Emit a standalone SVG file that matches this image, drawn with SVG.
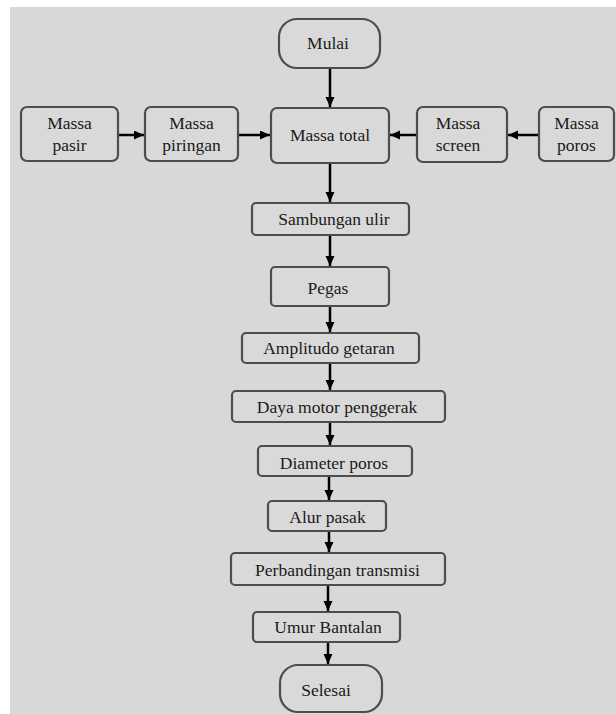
<svg xmlns="http://www.w3.org/2000/svg" width="616" height="714" viewBox="0 0 616 714">
<defs>
<style>
.bg{fill:#d8d8d8}
.box{fill:#d9d9d9;stroke:#4d4d4d;stroke-width:2.2}
text{font-family:"Liberation Serif","Times New Roman",Times,serif;font-size:17.5px;fill:#1a1a1a;text-anchor:middle}
.c{stroke:#000;stroke-width:2.5;fill:none}
</style>
<marker id="ah" markerUnits="userSpaceOnUse" markerWidth="11" markerHeight="10" refX="10" refY="4.5" orient="auto">
<path d="M0,0 L10,4.5 L0,9 z" fill="#000"/>
</marker>
</defs>
<rect class="bg" x="10" y="7" width="606" height="707"/>

<g id="connectors">
<line class="c" x1="330" y1="68" x2="330" y2="107" marker-end="url(#ah)"/>
<line class="c" x1="118" y1="135" x2="144" y2="135" marker-end="url(#ah)"/>
<line class="c" x1="238" y1="135" x2="270" y2="135" marker-end="url(#ah)"/>
<line class="c" x1="417" y1="135" x2="390" y2="135" marker-end="url(#ah)"/>
<line class="c" x1="539" y1="135" x2="508" y2="135" marker-end="url(#ah)"/>
<line class="c" x1="330" y1="163" x2="330" y2="202" marker-end="url(#ah)"/>
<line class="c" x1="330" y1="235" x2="330" y2="266" marker-end="url(#ah)"/>
<line class="c" x1="330" y1="306" x2="330" y2="332" marker-end="url(#ah)"/>
<line class="c" x1="330" y1="363" x2="330" y2="390" marker-end="url(#ah)"/>
<line class="c" x1="330" y1="422" x2="330" y2="445" marker-end="url(#ah)"/>
<line class="c" x1="329" y1="476" x2="329" y2="500" marker-end="url(#ah)"/>
<line class="c" x1="329" y1="531" x2="329" y2="552" marker-end="url(#ah)"/>
<line class="c" x1="328" y1="585" x2="328" y2="611" marker-end="url(#ah)"/>
<line class="c" x1="328" y1="642" x2="328" y2="664" marker-end="url(#ah)"/>
</g>

<g id="mulai">
<rect class="box" x="279" y="19" width="101" height="49" rx="18"/>
<text x="328" y="49">Mulai</text>
</g>
<g id="massa-pasir">
<rect class="box" x="21" y="107" width="97" height="54" rx="6"/>
<text x="69.5" y="129">Massa</text>
<text x="69.5" y="151">pasir</text>
</g>
<g id="massa-piringan">
<rect class="box" x="145" y="107" width="93" height="54" rx="6"/>
<text x="191.5" y="129">Massa</text>
<text x="191.5" y="151">piringan</text>
</g>
<g id="massa-total">
<rect class="box" x="271" y="108" width="118" height="55" rx="6"/>
<text x="330" y="141">Massa total</text>
</g>
<g id="massa-screen">
<rect class="box" x="417" y="107" width="90" height="55" rx="6"/>
<text x="458" y="129">Massa</text>
<text x="458" y="151">screen</text>
</g>
<g id="massa-poros">
<rect class="box" x="539" y="107" width="75" height="54" rx="6"/>
<text x="576.5" y="129">Massa</text>
<text x="576.5" y="151">poros</text>
</g>
<g id="sambungan-ulir">
<rect class="box" x="252" y="203" width="157" height="32" rx="4"/>
<text x="334" y="225">Sambungan ulir</text>
</g>
<g id="pegas">
<rect class="box" x="271" y="267" width="118" height="39" rx="4"/>
<text x="328" y="294">Pegas</text>
</g>
<g id="amplitudo-getaran">
<rect class="box" x="242" y="333" width="177" height="30" rx="4"/>
<text x="329" y="354">Amplitudo getaran</text>
</g>
<g id="daya-motor-penggerak">
<rect class="box" x="232" y="391" width="213" height="31" rx="4"/>
<text x="337" y="413">Daya motor penggerak</text>
</g>
<g id="diameter-poros">
<rect class="box" x="258" y="446" width="154" height="30" rx="4"/>
<text x="334" y="469">Diameter poros</text>
</g>
<g id="alur-pasak">
<rect class="box" x="268" y="501" width="118" height="30" rx="4"/>
<text x="327.5" y="523">Alur pasak</text>
</g>
<g id="perbandingan-transmisi">
<rect class="box" x="231" y="553" width="214" height="32" rx="4"/>
<text x="337.5" y="576">Perbandingan transmisi</text>
</g>
<g id="umur-bantalan">
<rect class="box" x="253" y="612" width="147" height="30" rx="4"/>
<text x="328" y="633">Umur Bantalan</text>
</g>
<g id="selesai">
<rect class="box" x="280" y="665" width="102" height="47" rx="18"/>
<text x="326" y="696">Selesai</text>
</g>
</svg>
